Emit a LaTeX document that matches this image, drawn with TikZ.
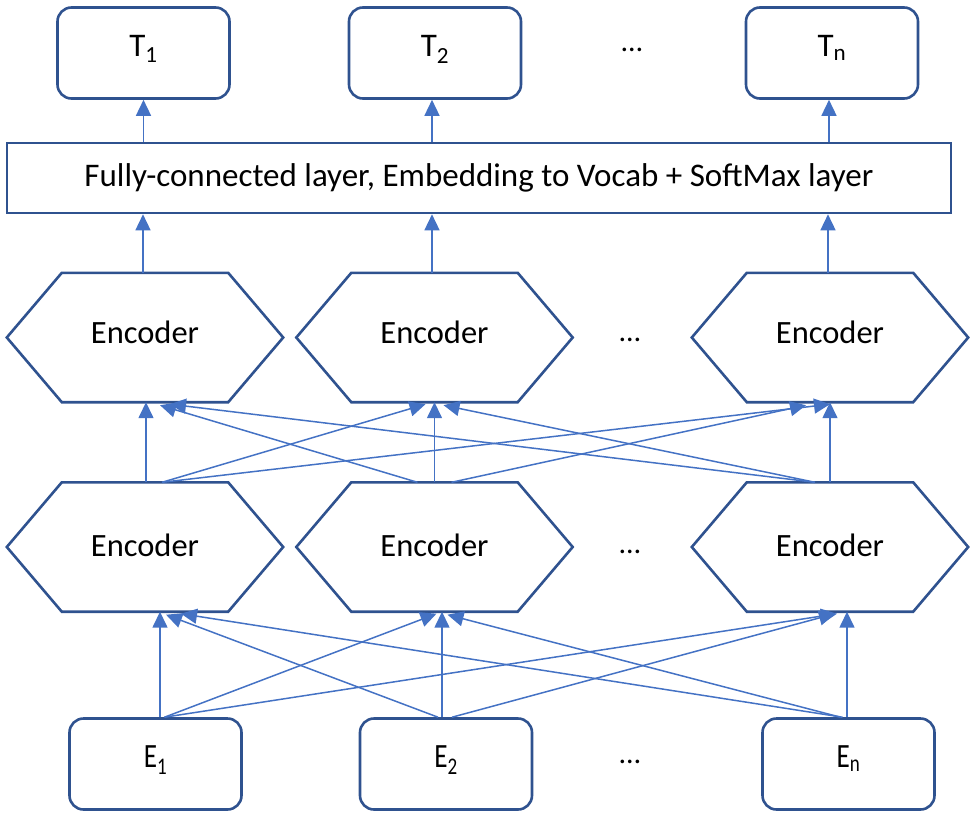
\documentclass[tikz,border=0pt]{standalone}
\usepackage{fontspec}
\setmainfont{Carlito}
\newfontfamily\condfont[FakeStretch=0.8]{Carlito}
\usetikzlibrary{arrows.meta}
\definecolor{bordc}{HTML}{2F528F}
\definecolor{arrc}{HTML}{4472C4}
\begin{document}
\begin{tikzpicture}[x=1pt,y=-1pt,
  tbox/.style={draw=bordc,line width=2.6pt,rounded corners=14pt,minimum width=172pt,minimum height=91pt,inner sep=0pt,text depth=14pt,font=\fontsize{33}{38}\selectfont},
  ebox/.style={tbox,font=\condfont\fontsize{34}{40}\selectfont},
  fcbox/.style={draw=bordc,line width=2.6pt,minimum width=944pt,minimum height=70pt,inner sep=0pt,font=\fontsize{33}{38}\selectfont},
  hexnode/.style={minimum width=276pt,minimum height=129pt,inner sep=0pt,font=\fontsize{32.5}{38}\selectfont},
  hexline/.style={draw=bordc,line width=2.6pt},
  dots/.style={inner sep=0pt,font=\fontsize{30}{36}\selectfont},
  arr/.style={draw=arrc,line width=1.5pt,-{Triangle[length=16pt,width=15pt]}}
]
\useasboundingbox (0,0) rectangle (975,817);
% top boxes
\node[tbox] (T1) at (143.5,53) {T\textsubscript{1}};
\node[tbox] (T2) at (435,53) {T\textsubscript{2}};
\node[tbox] (Tn) at (832,53) {T\textsubscript{n}};
\node[dots] (d1) at (632,50) {…};
% fully connected
\node[fcbox] (FC) at (479,178) {Fully-connected layer, Embedding to Vocab + SoftMax layer};
% encoders
\node[hexnode,text depth=10pt] (H1) at (145,337.5) {Encoder};
\node[hexnode,text depth=10pt] (H2) at (434.5,337.5) {Encoder};
\node[hexnode,text depth=10pt] (H3) at (830,337.5) {Encoder};
\node[dots] (d2) at (630,340) {…};
\node[hexnode,text depth=4pt] (L1) at (145,547) {Encoder};
\node[hexnode,text depth=4pt] (L2) at (434.5,547) {Encoder};
\node[hexnode,text depth=4pt] (L3) at (830,547) {Encoder};
\node[dots] (d3) at (630,552) {…};
\foreach \h in {H1,H2,H3,L1,L2,L3}
  \draw[hexline] (\h.west) -- ([xshift=55pt]\h.north west) -- ([xshift=-55pt]\h.north east)
    -- (\h.east) -- ([xshift=-55pt]\h.south east) -- ([xshift=55pt]\h.south west) -- cycle;
% bottom boxes
\node[ebox] (E1) at (155.5,764) {E\textsubscript{1}};
\node[ebox] (E2) at (446,764) {E\textsubscript{2}};
\node[ebox] (En) at (848.5,764) {E\textsubscript{n}};
\node[dots] (d4) at (630,762) {…};
% FC -> T
\draw[arr] (FC.north -| T1.south) -- (T1.south);
\draw[arr] ([xshift=-3pt]FC.north -| T2.south) -- ([xshift=-3pt]T2.south);
\draw[arr] ([xshift=-3pt]FC.north -| Tn.south) -- ([xshift=-3pt]Tn.south);
% H -> FC
\draw[arr] ([xshift=-2pt]H1.north) -- ([xshift=-2pt]H1.north |- FC.south);
\draw[arr] ([xshift=-2.5pt]H2.north) -- ([xshift=-2.5pt]H2.north |- FC.south);
\draw[arr] ([xshift=-2pt]H3.north) -- ([xshift=-2pt]H3.north |- FC.south);
% L -> H
\draw[arr] ([xshift=1pt]L1.north) -- ([xshift=1pt]L1.north |- H1.south);
\draw[arr] ([xshift=17pt]L1.north) -- ([xshift=-9pt,yshift=-2pt]H2.south);
\draw[arr] ([xshift=17pt]L1.north) -- ([xshift=0pt,yshift=-2pt]H3.south);
\draw[arr] (L2.north) -- (L2.north |- H1.south);
\draw[arr] ([xshift=-17pt]L2.north) -- ([xshift=15pt,yshift=-3pt]H1.south);
\draw[arr] ([xshift=17pt]L2.north) -- ([xshift=-24pt,yshift=-3pt]H3.south);
\draw[arr] (L3.north) -- (L3.north |- H3.south);
\draw[arr] ([xshift=-15pt]L3.north) -- ([xshift=25pt,yshift=-2pt]H1.south);
\draw[arr] ([xshift=-15pt]L3.north) -- ([xshift=9pt,yshift=-3pt]H2.south);
% E -> L
\draw[arr] ([xshift=4.5pt]E1.north) -- ([xshift=4.5pt]E1.north |- L1.south);
\draw[arr] ([xshift=9pt]E1.north) -- ([xshift=2pt,yshift=-2pt]L2.south);
\draw[arr] ([xshift=9pt]E1.north) -- ([xshift=7pt,yshift=-2pt]L3.south);
\draw[arr] ([xshift=-4pt]E2.north) -- ([xshift=-4pt]E2.north |- L2.south);
\draw[arr] ([xshift=-8pt]E2.north) -- ([xshift=21pt,yshift=-3pt]L1.south);
\draw[arr] ([xshift=6pt]E2.north) -- ([xshift=5pt,yshift=-2pt]L3.south);
\draw[arr] ([xshift=-1.5pt]En.north) -- ([xshift=-1.5pt]En.north |- L3.south);
\draw[arr] ([xshift=-6pt]En.north) -- ([xshift=36pt,yshift=-2pt]L1.south);
\draw[arr] ([xshift=-8pt]En.north) -- ([xshift=13pt,yshift=-3pt]L2.south);
\end{tikzpicture}
\end{document}
